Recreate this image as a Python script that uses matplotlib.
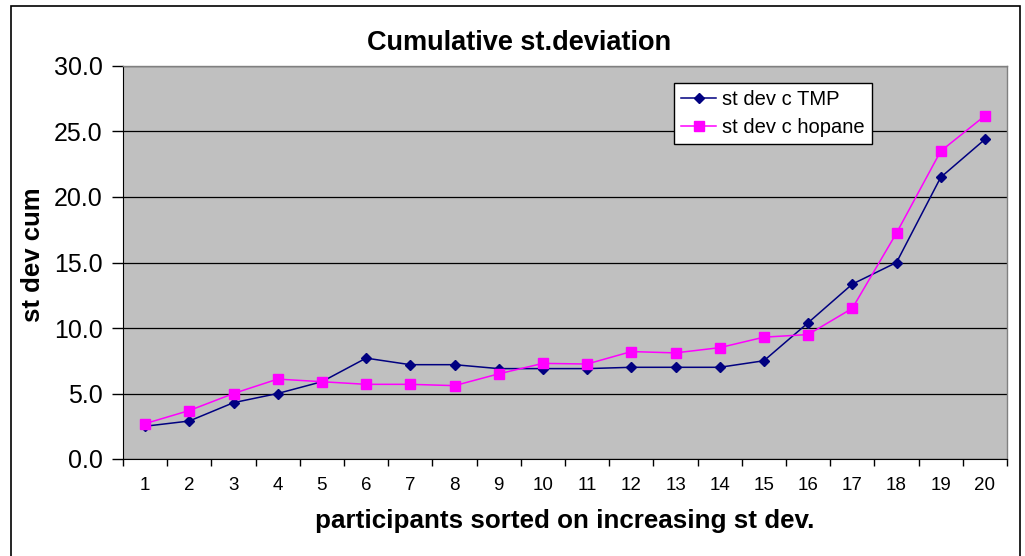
import numpy as np
import matplotlib.pyplot as plt
from matplotlib.patches import Rectangle

participants = list(range(1, 21))
st_dev_tmp = [2.5, 2.9, 4.3, 5.0, 5.9, 7.7, 7.2, 7.2, 6.9, 6.9,
              6.9, 7.0, 7.0, 7.0, 7.5, 10.4, 13.35, 15.0, 21.5, 24.4]
st_dev_hopane = [2.7, 3.7, 5.0, 6.1, 5.9, 5.7, 5.7, 5.6, 6.5, 7.3,
                 7.25, 8.2, 8.1, 8.5, 9.3, 9.5, 11.5, 17.25, 23.5, 26.2]
y_ticks = [0, 5, 10, 15, 20, 25, 30]

plt.rcParams["font.family"] = ["Liberation Sans", "DejaVu Sans"]

W, H = 1025, 556
fig = plt.figure(figsize=(W / 100, H / 100), dpi=100)

# outer chart border
fig.patches.append(Rectangle((11 / W, -0.01), (1020 - 11) / W, 1 - 6 / H + 0.01,
                             transform=fig.transFigure, fill=False,
                             edgecolor="black", linewidth=1.2))

left, right, top, bottom = 123, 1007, 66, 459
ax = fig.add_axes([left / W, 1 - bottom / H, (right - left) / W, (bottom - top) / H])
ax.set_facecolor("#c0c0c0")

x = np.arange(len(participants))
ax.plot(x, st_dev_tmp, color="#000080", marker="D", markersize=5.5,
        linewidth=1.1, label="st dev c TMP", zorder=3)
ax.plot(x, st_dev_hopane, color="#ff00ff", marker="s", markersize=6.5,
        linewidth=1.1, label="st dev c hopane", zorder=3)

ax.set_xlim(-0.5, len(participants) - 0.5)
ax.set_ylim(0, 30)
ax.set_yticks(y_ticks)
ax.set_yticklabels(["%.1f" % v for v in y_ticks], fontsize=18)
ax.yaxis.grid(True, color="black", linewidth=0.9)
ax.set_axisbelow(True)

ax.set_xticks(x)
ax.set_xticklabels([str(p) for p in participants], fontsize=13.5)
ax.set_xticks(np.arange(-0.5, len(participants), 1.0), minor=True)
ax.tick_params(axis="x", which="major", length=0, pad=13)
ax.tick_params(axis="x", which="minor", length=5, width=1, color="black")
ax.tick_params(axis="y", length=8, width=1, pad=6.5)

for side in ["top", "right"]:
    ax.spines[side].set_color("#808080")
    ax.spines[side].set_linewidth(1)
ax.spines["left"].set_color("black")
ax.spines["bottom"].set_color("black")

fig.text((left + right) / 2 / W, 1 - 521 / H, "participants sorted on increasing st dev.",
         fontsize=18.75, fontweight="bold", ha="center", va="center")
fig.text(32.5 / W, 1 - 255 / H, "st dev cum", fontsize=18.5, fontweight="bold",
         rotation=90, ha="center", va="center")
fig.text(519 / W, 1 - 43 / H, "Cumulative st.deviation",
         fontsize=19.5, fontweight="bold", ha="center", va="center")

leg = ax.legend(loc="upper left", bbox_to_anchor=((674 - left) / (right - left), 1 - (83 - top) / (bottom - top)),
                fontsize=14.5, frameon=True, fancybox=False, framealpha=1,
                edgecolor="black", borderpad=0.35, handlelength=1.75,
                handletextpad=0.3, labelspacing=0.45, borderaxespad=0)
leg.get_frame().set_linewidth(1)

fig.savefig("out.png", dpi=100)
